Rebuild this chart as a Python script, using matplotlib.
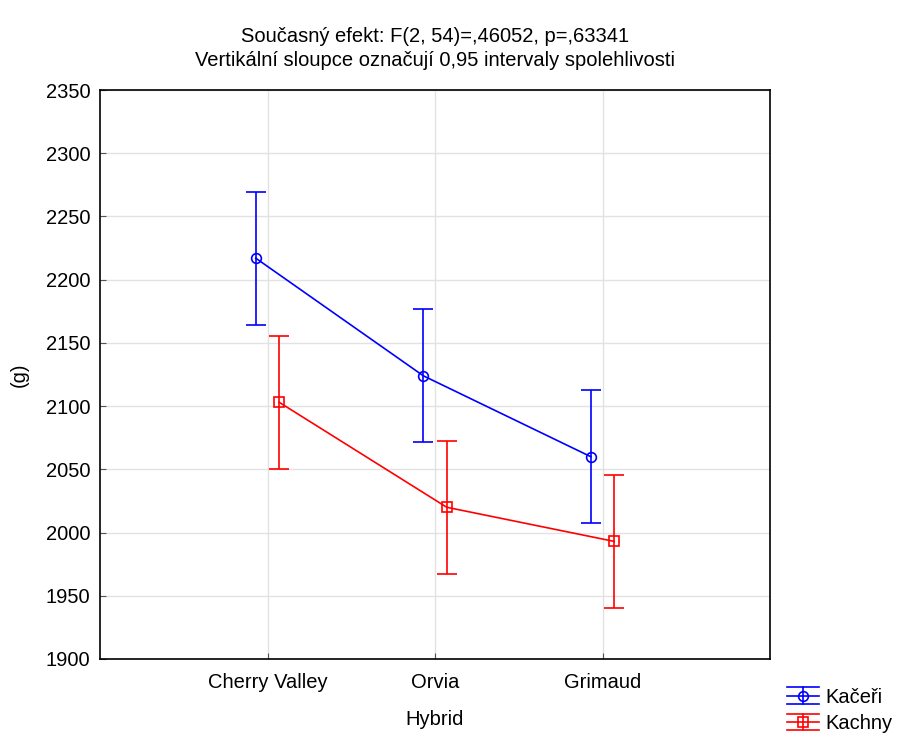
import numpy as np
import matplotlib.pyplot as plt
from matplotlib.lines import Line2D
from matplotlib.legend_handler import HandlerBase

plt.rcParams['font.family'] = ['Liberation Sans', 'DejaVu Sans']

hybrids = ['Cherry Valley', 'Orvia', 'Grimaud']
kaceri = np.array([2217.0, 2124.0, 2060.0])
kaceri_ci = np.array([52.5, 52.5, 52.5])
kachny = np.array([2103.0, 2020.0, 1993.0])
kachny_ci = np.array([52.5, 52.5, 52.5])

x = np.arange(1, len(hybrids) + 1)
off = 0.07
fs = 14.5


class HandlerCI(HandlerBase):
    # legend key in the STATISTICA style: three horizontal lines + marker
    def create_artists(self, legend, orig_handle, xdescent, ydescent,
                       width, height, fontsize, trans):
        ln = orig_handle.lines[0]
        c = ln.get_color()
        x0, x1 = -xdescent, width - xdescent
        xm = (x0 + x1) / 2
        y0 = -ydescent - 0.1 * height
        y2 = height - ydescent + 0.1 * height
        ym = (y0 + y2) / 2
        arts = []
        for yy in (y0, ym, y2):
            arts.append(Line2D([x0, x1], [yy, yy], color=c, lw=1.2))
        arts.append(Line2D([xm, xm], [y0, y2], color=c, lw=1.2))
        arts.append(Line2D([xm], [ym], color=c, marker=ln.get_marker(),
                           markersize=ln.get_markersize(),
                           markerfacecolor='none', markeredgewidth=1.2))
        for a in arts:
            a.set_transform(trans)
        return arts


fig = plt.figure(figsize=(9.01, 7.34), dpi=100, facecolor='w')
ax = fig.add_axes([100 / 901, 1 - 659 / 734, 670 / 901, 569 / 734])

h1 = ax.errorbar(x - off, kaceri, yerr=kaceri_ci, color='blue', marker='o',
                 markersize=7, markerfacecolor='none', markeredgewidth=1.2,
                 linewidth=1.2, capsize=7, capthick=1.2, elinewidth=1.2,
                 label='Kačeři')
h2 = ax.errorbar(x + off, kachny, yerr=kachny_ci, color='red', marker='s',
                 markersize=6.5, markerfacecolor='none', markeredgewidth=1.2,
                 linewidth=1.2, capsize=7, capthick=1.2, elinewidth=1.2,
                 label='Kachny')

ax.set_xlim(0, 4)
ax.set_ylim(1900, 2350)
ax.set_xticks(x)
ax.set_xticklabels(hybrids)
ax.set_yticks(np.arange(1900, 2351, 50))
ax.grid(True, color='#e2e2e2', linewidth=1)
ax.set_axisbelow(True)
ax.tick_params(direction='in', length=4, labelsize=fs, color='#555555')
ax.tick_params(axis='x', pad=10)
ax.tick_params(axis='y', pad=7)
for s in ax.spines.values():
    s.set_linewidth(1.2)

ax.set_xlabel('Hybrid', fontsize=fs, labelpad=13)
ax.set_ylabel('(g)', fontsize=fs, labelpad=12)
ax.set_title('Současný efekt: F(2, 54)=,46052, p=,63341\n'
             'Vertikální sloupce označují 0,95 intervaly spolehlivosti',
             fontsize=fs, pad=17, linespacing=1.35)

fig.legend(handles=[h1, h2], handler_map={h1: HandlerCI(), h2: HandlerCI()},
           loc='upper left', bbox_to_anchor=(787 / 901, 1 - 688 / 734),
           frameon=False, fontsize=fs, handlelength=1.6, handletextpad=0.3,
           labelspacing=0.35, borderpad=0, borderaxespad=0)

fig.savefig('out.png', dpi=100)
